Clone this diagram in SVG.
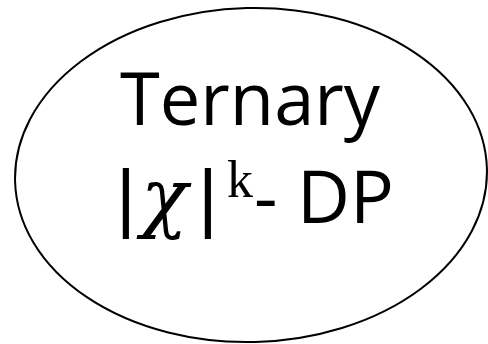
<svg xmlns="http://www.w3.org/2000/svg" width="488" height="344" viewBox="0 0 488 344">
<style>
.shape{fill:#ffffff;stroke:#000000;stroke-width:2}
.sans{font-family:"Open Sans","Liberation Sans",sans-serif;font-size:73px;fill:#000000}
.bar{font-family:"Liberation Sans",sans-serif;font-size:76px}
.chi{font-family:"DejaVu Serif","Liberation Serif",serif;font-style:italic;font-size:77px}
.sup{font-family:"Liberation Serif","DejaVu Serif",serif;font-size:52px}
</style>
<rect width="488" height="344" fill="#ffffff"/>
<g id="node-ternary-dp">
<ellipse class="shape" cx="251" cy="175" rx="236" ry="167" transform="rotate(-1.5 251 175)"/>
<text class="sans" x="120" y="125" textLength="260" lengthAdjust="spacingAndGlyphs">Ternary</text>
<text class="sans" y="223"><tspan class="bar" x="116">|</tspan><tspan class="chi" x="141">χ</tspan><tspan class="bar" x="198">|</tspan><tspan class="sup" x="227" y="197">k</tspan><tspan x="254" y="223">-</tspan><tspan x="297">DP</tspan></text>
</g>
<g id="connectors"></g>
</svg>
